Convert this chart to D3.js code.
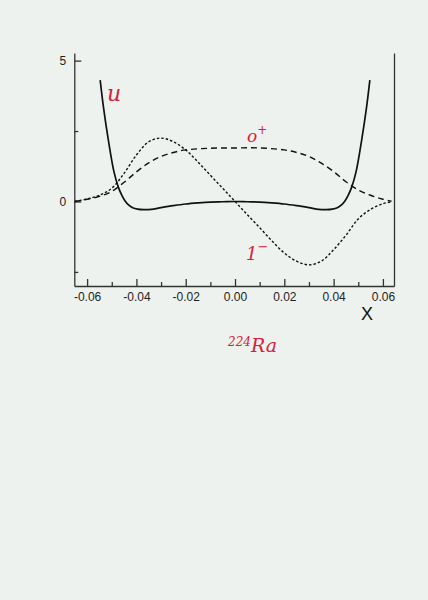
<!DOCTYPE html>
<html>
<head>
  <script src="https://d3js.org/d3.v7.min.js"></script>
  <style>
    body {
  margin: 0;
  background-color: #eef2ee;
}

svg {
  display: block;
  background-color: #eef2ee;
  font-family: 'Liberation Sans', Arial, sans-serif;
}

.axis text {
  font-size: 12px;
  fill: #222;
}

.axis line, .axis path {
  stroke: #333;
  stroke-width: 1.3px;
}

.curve {
  fill: none;
  stroke: #111;
}

.note {
  fill: #d8203a;
  font-family: 'DejaVu Serif', serif;
  font-style: italic;
}
  </style>
</head>
<body>

<script>
// Potential u(x).
const uX = [-0.0547, -0.0534, -0.0514, -0.0491, -0.0473, -0.0458, -0.0446, -0.0432, -0.0415, -0.0395, -0.037,
  -0.034, -0.03, -0.025, -0.02, -0.015, -0.01, -0.005, 0,
  0.005, 0.01, 0.015, 0.02, 0.025, 0.03, 0.034,
  0.037, 0.0395, 0.0415, 0.0432, 0.0446, 0.0458, 0.0473, 0.0491, 0.0514, 0.0534, 0.0547];
const uY = [4.31, 3.37, 2.19, 1.05, 0.5, 0.2, 0.02, -0.12, -0.22, -0.27, -0.29,
  -0.28, -0.22, -0.15, -0.09, -0.05, -0.02, -0.01, 0,
  -0.01, -0.02, -0.05, -0.09, -0.15, -0.22, -0.28,
  -0.29, -0.27, -0.22, -0.12, 0.02, 0.2, 0.5, 1.05, 2.19, 3.37, 4.31];

// 0+ wave function (long dashes).
const evenX = [-0.065, -0.06, -0.055, -0.05, -0.045, -0.04, -0.035, -0.03, -0.025, -0.02, -0.01, 0,
  0.01, 0.02, 0.025, 0.03, 0.035, 0.04, 0.045, 0.05, 0.055, 0.06, 0.0635];
const evenY = [0, 0.08, 0.18, 0.36, 0.68, 1.05, 1.37, 1.6, 1.74, 1.83, 1.89, 1.9,
  1.9, 1.83, 1.74, 1.6, 1.36, 1.06, 0.7, 0.41, 0.22, 0.08, 0.01];

// 1- wave function (short dashes).
const oddX = [-0.065, -0.06, -0.055, -0.05, -0.045, -0.04, -0.035, -0.03, -0.025, -0.02, -0.015, -0.01, -0.005, 0,
  0.005, 0.01, 0.015, 0.02, 0.025, 0.03, 0.035, 0.04, 0.045, 0.05, 0.055, 0.06, 0.0635];
const oddY = [0, 0.09, 0.22, 0.47, 1.0, 1.65, 2.12, 2.25, 2.12, 1.83, 1.4, 0.93, 0.47, 0,
  -0.47, -0.93, -1.4, -1.83, -2.12, -2.25, -2.12, -1.71, -1.2, -0.62, -0.28, -0.08, -0.01];

// Tick values.
const xMajor = [-0.06, -0.04, -0.02, 0, 0.02, 0.04, 0.06];
const xMinor = [-0.05, -0.03, -0.01, 0.01, 0.03, 0.05];
const yMajor = [0, 5];
const yMinor = [-2.5, 2.5];

const width = 428;
const height = 600;

const x = d3.scaleLinear().domain([-0.0652, 0.0645]).range([74.3, 394]);
const y = d3.scaleLinear().domain([-3, 5.27]).range([286, 53]);

// plain hyphen for negatives, as on the scan
const fmtX = d => d3.format(".2f")(d).replace("\u2212", "-");

const svg = d3.select("body")
  .append("svg")
  .attr("width", width)
  .attr("height", height);

// Bottom axis: major ticks with labels, then minor ticks.
svg.append("g")
  .attr("class", "axis")
  .attr("transform", `translate(0,${y(-3)})`)
  .call(d3.axisBottom(x).tickValues(xMajor).tickSize(-7).tickSizeOuter(0).tickPadding(6)
    .tickFormat(fmtX));

svg.append("g")
  .attr("class", "axis")
  .attr("transform", `translate(0,${y(-3)})`)
  .call(d3.axisBottom(x).tickValues(xMinor).tickSize(-4).tickSizeOuter(0).tickFormat(""))
  .select(".domain").remove();

// Left axis.
svg.append("g")
  .attr("class", "axis")
  .attr("transform", `translate(${x(-0.0652)},0)`)
  .call(d3.axisLeft(y).tickValues(yMajor).tickSize(-7).tickSizeOuter(0).tickPadding(8)
    .tickFormat(d3.format("d")));

svg.append("g")
  .attr("class", "axis")
  .attr("transform", `translate(${x(-0.0652)},0)`)
  .call(d3.axisLeft(y).tickValues(yMinor).tickSize(-4).tickSizeOuter(0).tickFormat(""))
  .select(".domain").remove();

// Right frame line, no ticks.
svg.append("g")
  .attr("class", "axis")
  .attr("transform", `translate(${x(0.0645)},0)`)
  .call(d3.axisRight(y).tickValues([]).tickSizeOuter(0));

const line = d3.line()
  .x(d => x(d[0]))
  .y(d => y(d[1]))
  .curve(d3.curveCatmullRom.alpha(0.5));

svg.append("path")
  .attr("class", "curve")
  .attr("stroke-width", 1.7)
  .attr("d", line(d3.zip(uX, uY)));

svg.append("path")
  .attr("class", "curve")
  .attr("stroke-width", 1.4)
  .attr("stroke-dasharray", "6,4")
  .attr("d", line(d3.zip(evenX, evenY)));

svg.append("path")
  .attr("class", "curve")
  .attr("stroke-width", 1.4)
  .attr("stroke-dasharray", "2.5,2")
  .attr("d", line(d3.zip(oddX, oddY)));

// Handwritten labels.
svg.append("text")
  .attr("class", "note")
  .attr("x", 107)
  .attr("y", 101)
  .attr("font-size", 22)
  .text("u");

const even = svg.append("text")
  .attr("class", "note")
  .attr("x", 247)
  .attr("y", 142)
  .attr("font-size", 17);
even.append("tspan").text("o");
even.append("tspan").attr("dy", -8).attr("font-size", 12).text("+");

const odd = svg.append("text")
  .attr("class", "note")
  .attr("x", 246)
  .attr("y", 260)
  .attr("font-size", 18);
odd.append("tspan").text("1");
odd.append("tspan").attr("dy", -9).attr("font-size", 13).text("−");

const nucleus = svg.append("text")
  .attr("class", "note")
  .attr("x", 228)
  .attr("y", 352)
  .attr("font-size", 19);
nucleus.append("tspan").attr("font-size", 12).attr("dy", -6).text("224");
nucleus.append("tspan").attr("dy", 6).text("Ra");

svg.append("text")
  .attr("x", 367)
  .attr("y", 320)
  .attr("text-anchor", "middle")
  .attr("font-size", 18)
  .attr("font-weight", 300)
  .attr("fill", "#111")
  .text("X");
</script>
</body>
</html>
